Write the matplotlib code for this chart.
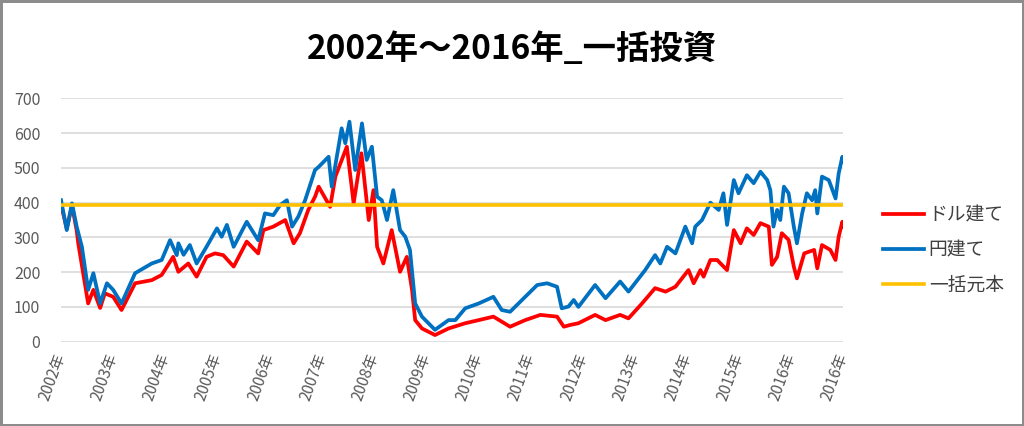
import matplotlib
matplotlib.use("Agg")
import matplotlib.pyplot as plt

plt.rcParams['font.family'] = ['Noto Sans CJK JP', 'DejaVu Sans']

# 値は画像から読み取り (年の小数表記)
dollar_x = [2002.00, 2002.11, 2002.21, 2002.30, 2002.33, 2002.52, 2002.62, 2002.75, 2002.84, 2003.00,
            2003.16, 2003.42, 2003.74, 2003.93, 2004.15, 2004.25, 2004.44, 2004.60, 2004.79, 2004.95,
            2005.11, 2005.31, 2005.56, 2005.78, 2005.88, 2006.07, 2006.30, 2006.46, 2006.58, 2006.74,
            2006.87, 2006.94, 2007.16, 2007.26, 2007.48, 2007.61, 2007.76, 2007.90, 2007.99, 2008.06,
            2008.18, 2008.34, 2008.50, 2008.63, 2008.73, 2008.79, 2008.92, 2009.17, 2009.43, 2009.75,
            2010.01, 2010.29, 2010.61, 2010.90, 2011.19, 2011.51, 2011.64, 2011.76, 2011.92, 2012.24,
            2012.44, 2012.72, 2012.88, 2013.14, 2013.39, 2013.59, 2013.78, 2014.03, 2014.13, 2014.26,
            2014.32, 2014.45, 2014.58, 2014.77, 2014.90, 2015.03, 2015.15, 2015.28, 2015.41, 2015.57,
            2015.63, 2015.73, 2015.82, 2015.95, 2016.05, 2016.11, 2016.25, 2016.44, 2016.50, 2016.59,
            2016.75, 2016.85, 2016.91, 2016.98, 2017.00]
dollar_y = [395, 325, 392, 320, 283, 110, 149, 97, 139, 129,
            91, 168, 177, 192, 244, 201, 225, 187, 244, 254,
            249, 216, 288, 254, 321, 331, 350, 283, 312, 379,
            417, 446, 388, 475, 561, 398, 542, 350, 436, 273,
            225, 321, 201, 244, 149, 62, 38, 19, 38, 53,
            62, 72, 43, 62, 77, 72, 43, 48, 53, 77,
            62, 77, 67, 110, 154, 144, 158, 206, 168, 206,
            187, 235, 235, 206, 321, 283, 326, 307, 341, 331,
            221, 244, 312, 293, 216, 182, 254, 264, 211, 278,
            264, 235, 302, 345, 331]

yen_x = [2002.00, 2002.11, 2002.21, 2002.30, 2002.40, 2002.52, 2002.62, 2002.75, 2002.88, 2003.00,
         2003.16, 2003.42, 2003.74, 2003.93, 2004.09, 2004.22, 2004.25, 2004.35, 2004.47, 2004.60,
         2004.79, 2004.99, 2005.08, 2005.18, 2005.31, 2005.56, 2005.78, 2005.91, 2006.07, 2006.20,
         2006.33, 2006.43, 2006.55, 2006.68, 2006.87, 2006.94, 2007.13, 2007.19, 2007.38, 2007.45,
         2007.53, 2007.64, 2007.77, 2007.86, 2007.96, 2008.06, 2008.15, 2008.25, 2008.37, 2008.50,
         2008.60, 2008.69, 2008.79, 2008.92, 2009.17, 2009.43, 2009.56, 2009.75, 2010.01, 2010.29,
         2010.45, 2010.61, 2010.90, 2011.13, 2011.32, 2011.51, 2011.60, 2011.73, 2011.83, 2011.92,
         2012.24, 2012.44, 2012.72, 2012.88, 2013.20, 2013.39, 2013.49, 2013.62, 2013.78, 2013.97,
         2014.10, 2014.16, 2014.29, 2014.45, 2014.61, 2014.70, 2014.77, 2014.90, 2014.99, 2015.15,
         2015.28, 2015.41, 2015.54, 2015.60, 2015.66, 2015.73, 2015.79, 2015.86, 2015.95, 2016.05,
         2016.11, 2016.21, 2016.30, 2016.40, 2016.46, 2016.50, 2016.59, 2016.72, 2016.78, 2016.85,
         2016.91, 2016.98, 2017.00]
yen_y = [407, 321, 398, 331, 273, 149, 197, 110, 168, 149,
         110, 197, 225, 235, 292, 249, 283, 250, 278, 225,
         273, 326, 302, 336, 273, 345, 292, 369, 364, 393,
         407, 331, 360, 407, 494, 503, 532, 446, 614, 571,
         633, 494, 628, 523, 561, 417, 407, 350, 436, 321,
         302, 264, 110, 72, 34, 62, 62, 96, 110, 129,
         91, 86, 129, 163, 168, 158, 96, 101, 120, 100,
         163, 125, 173, 144, 206, 249, 225, 273, 254, 331,
         283, 331, 350, 400, 379, 427, 336, 465, 427, 479,
         456, 489, 465, 436, 331, 379, 350, 446, 427, 331,
         283, 369, 427, 407, 436, 369, 475, 465, 441, 412,
         484, 532, 518]

principal = 393

year_ticks = list(range(2002, 2018))
year_labels = ['2002年', '2003年', '2004年', '2005年', '2006年', '2007年', '2008年', '2009年',
               '2010年', '2011年', '2012年', '2013年', '2014年', '2015年', '2016年', '2016年']
y_ticks = [0, 100, 200, 300, 400, 500, 600, 700]

fig = plt.figure(figsize=(10.24, 4.26), dpi=100, edgecolor='#8c8c8c', linewidth=2.5)
ax = fig.add_axes([0.0596, 0.198, 0.764, 0.571])

ax.plot(dollar_x, dollar_y, color='#ff0000', lw=2.7, label='ドル建て')
ax.plot(yen_x, yen_y, color='#0070c0', lw=2.7, label='円建て')
ax.plot([yen_x[0], yen_x[-1]], [principal, principal], color='#ffc000', lw=2.6, label='一括元本')

ax.set_xlim(year_ticks[0], year_ticks[-1])
ax.set_ylim(0, 700)
ax.set_yticks(y_ticks)
ax.set_xticks(year_ticks)
ax.set_xticklabels(year_labels, rotation=70, ha='right', va='center', rotation_mode='anchor')
ax.tick_params(axis='y', length=0, pad=15, labelsize=11.5, labelcolor='#595959')
ax.tick_params(axis='x', length=0, pad=9, labelsize=11, labelcolor='#595959')
for lbl in ax.get_xticklabels():
    lbl.set_x(lbl.get_position()[0])
ax.grid(axis='y', color='#d9d9d9', lw=1.2)
ax.set_axisbelow(True)
for s in ax.spines.values():
    s.set_visible(False)

fig.text(0.5, 0.885, '2002年～2016年_一括投資', ha='center', va='center',
         fontsize=24, fontweight='bold', color='black')

fig.legend(loc='center left', bbox_to_anchor=(0.853, 0.413), frameon=False,
           borderpad=0, handlelength=2.2, handletextpad=0.25, labelspacing=0.75,
           fontsize=13.5, labelcolor='#404040')

fig.savefig('out.png', dpi=100)
